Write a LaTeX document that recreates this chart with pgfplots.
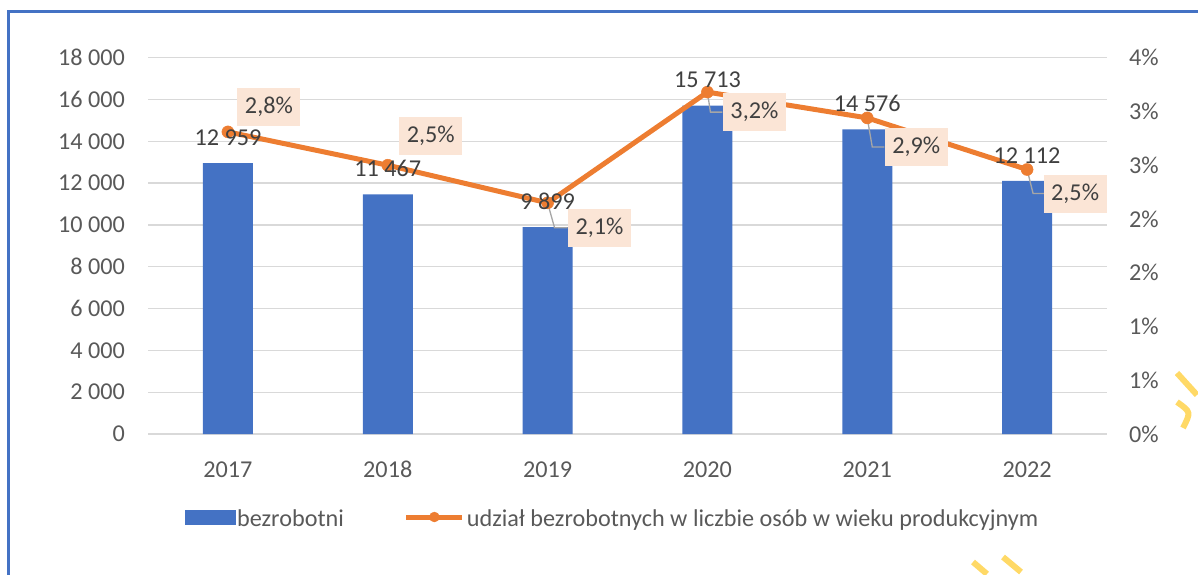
\documentclass[border=0pt]{standalone}
\usepackage{fontspec}
\setmainfont{Carlito}
\usepackage{pgfplots}
\pgfplotsset{compat=1.18}
\definecolor{bluebar}{RGB}{68,114,196}
\definecolor{orangel}{RGB}{237,125,49}
\definecolor{gridc}{RGB}{217,217,217}
\definecolor{tickc}{RGB}{89,89,89}
\definecolor{labc}{RGB}{64,64,64}
\definecolor{boxc}{RGB}{251,229,214}
\definecolor{leadc}{RGB}{166,166,166}
\definecolor{yel}{RGB}{255,217,102}
\newcommand{\fs}{\fontsize{24.2}{29}\selectfont}
\tikzset{
  lbl/.style={fill=boxc, font=\fs, text=labc, minimum width=63pt, minimum height=38pt, inner sep=0pt},
  leader/.style={leadc, line width=1.3pt}
}
\begin{document}
\begin{tikzpicture}
\path[use as bounding box] (0,0) rectangle (1198pt,574pt);
\draw[bluebar, line width=3pt] (8.6pt,-5pt) -- (8.6pt,562.3pt) -- (1205pt,562.3pt);
\draw[yel, line width=6pt] (1177pt,201pt) -- (1197pt,179pt);
\draw[yel, line width=6pt] (1177pt,172pt) .. controls (1191pt,162pt) .. (1183pt,146pt);
\draw[yel, line width=6pt] (973pt,12pt) -- (987pt,0pt);
\draw[yel, line width=6pt] (1003pt,17pt) -- (1021pt,2pt);
\pgfplotsset{
  base/.style={scale only axis, width=959pt, height=376.3pt, at={(148pt,140pt)}, anchor=south west, xmin=-0.5, xmax=5.5, clip=false}
}
\begin{axis}[base, ymin=0, ymax=18000, scaled y ticks=false,
  ytick={0,2000,4000,6000,8000,10000,12000,14000,16000,18000},
  yticklabels={0,2 000,4 000,6 000,8 000,10 000,12 000,14 000,16 000,18 000},
  xtick={0,1,2,3,4,5}, xticklabels={2017,2018,2019,2020,2021,2022},
  ymajorgrids, grid style={gridc, line width=1.3pt},
  axis line style={draw=none}, tick style={draw=none},
  ticklabel style={font=\fs, text=tickc, inner sep=0pt},
  yticklabel style={anchor=east, xshift=-23pt},
  xticklabel style={anchor=center, yshift=-31pt},
  ybar, bar width=50pt]
\addplot[fill=bluebar, draw=none] coordinates {(0,12959) (1,11467) (2,9899) (3,15713) (4,14576) (5,12112)};
\end{axis}
\begin{axis}[base, ymin=0, ymax=3.5, axis y line*=right, axis x line=none, scaled y ticks=false,
  ytick={0,0.5,1,1.5,2,2.5,3,3.5},
  yticklabels={0\%,1\%,1\%,2\%,2\%,3\%,3\%,4\%},
  y axis line style={draw=none}, ytick style={draw=none},
  yticklabel style={font=\fs, text=tickc, inner sep=0pt, anchor=west, xshift=22pt}]
\addplot[orangel, line width=5pt, mark=*, mark size=6pt, mark options={fill=orangel, draw=orangel, line width=0.5pt}]
  coordinates {(0,2.81) (1,2.50) (2,2.15) (3,3.18) (4,2.94) (5,2.46)};
\draw[leader] (axis cs:2,2.15) -- ++(7pt,-25pt) -- ++(13pt,0pt);
\draw[leader] (axis cs:3,3.18) -- ++(3pt,-20pt) -- ++(12pt,0pt);
\draw[leader] (axis cs:4,2.94) -- ++(5pt,-29pt) -- ++(12pt,0pt);
\draw[leader] (axis cs:5,2.46) -- ++(6pt,-24pt) -- ++(11pt,0pt);
\node[lbl, xshift=41pt, yshift=25pt] at (axis cs:0,2.81) {2,8\%};
\node[lbl, xshift=43pt, yshift=29pt] at (axis cs:1,2.50) {2,5\%};
\node[lbl, xshift=52pt, yshift=-25pt] at (axis cs:2,2.15) {2,1\%};
\node[lbl, xshift=47pt, yshift=-20pt] at (axis cs:3,3.18) {3,2\%};
\node[lbl, xshift=49pt, yshift=-29pt] at (axis cs:4,2.94) {2,9\%};
\node[lbl, xshift=48pt, yshift=-24pt] at (axis cs:5,2.46) {2,5\%};
\end{axis}
\begin{axis}[base, ymin=0, ymax=18000, hide axis,
  legend style={at={(rel axis cs:0.4844,-0.2259)}, anchor=center, draw=none, fill=none,
    font=\fs, text=tickc, inner sep=0pt, outer sep=0pt, legend columns=2,
    /tikz/every odd column/.append style={column sep=0pt},
    /tikz/every even column/.append style={column sep=58pt}},
  legend cell align=left]
\addplot[draw=none, mark=none, forget plot, nodes near coords={\pgfplotspointmeta}, point meta=explicit symbolic,
  nodes near coords style={anchor=center, yshift=25.5pt, font=\fs, text=labc, inner sep=0pt}]
  coordinates {(0,12959) [12 959] (1,11467) [11 467] (2,9899) [9 899] (3,15713) [15 713] (4,14576) [14 576] (5,12112) [12 112]};
\addlegendimage{legend image code/.code={\fill[bluebar] (0pt,-5pt) rectangle (50pt,9pt);}}
\addlegendentry{bezrobotni}
\addlegendimage{legend image code/.code={\draw[orangel, line width=5pt] (0pt,2pt) -- (56pt,2pt); \fill[orangel] (28pt,2pt) circle (5pt);}}
\addlegendentry{udział bezrobotnych w liczbie osób w wieku produkcyjnym}
\end{axis}
\end{tikzpicture}
\end{document}
